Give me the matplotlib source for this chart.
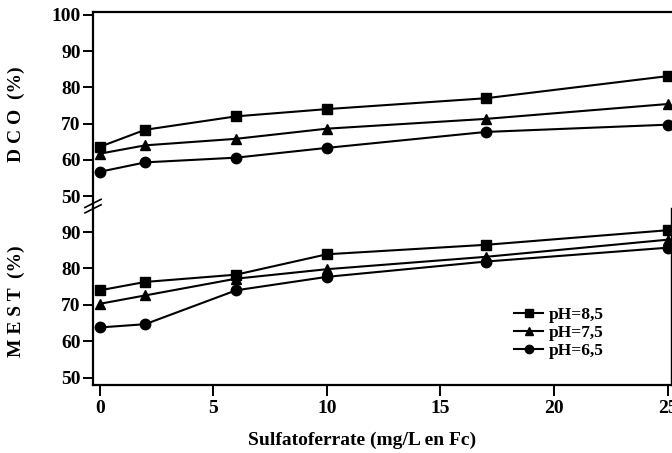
import matplotlib.pyplot as plt
from matplotlib.lines import Line2D

plt.rcParams['font.family'] = ['Liberation Serif', 'DejaVu Serif']
plt.rcParams['font.weight'] = 'bold'

# données
dose = [0, 2, 6, 10, 17, 25]
labels = ['pH=8,5', 'pH=7,5', 'pH=6,5']
markers = ['s', '^', 'o']

dco_85 = [63.6, 68.3, 72.0, 74.0, 77.0, 83.1]
dco_75 = [61.7, 64.0, 65.8, 68.6, 71.3, 75.4]
dco_65 = [56.7, 59.3, 60.6, 63.3, 67.7, 69.7]

mest_85 = [74.0, 76.3, 78.3, 83.9, 86.5, 90.5]
mest_75 = [70.3, 72.6, 77.2, 79.8, 83.2, 87.9]
mest_65 = [63.8, 64.7, 74.0, 77.7, 81.9, 85.7]

x_ticks = [0, 5, 10, 15, 20, 25]
dco_ticks = [50, 60, 70, 80, 90, 100]
mest_ticks = [50, 60, 70, 80, 90]

fig = plt.figure(figsize=(6.72, 4.53), dpi=100)
ax_top = fig.add_axes([0.1384, 0.5408, 0.8601, 0.4327])
ax_bot = fig.add_axes([0.1384, 0.1501, 0.8601, 0.3907])

for ax, series in ((ax_top, (dco_85, dco_75, dco_65)),
                   (ax_bot, (mest_85, mest_75, mest_65))):
    for vals, m, lab in zip(series, markers, labels):
        ax.plot(dose, vals, color='black', marker=m, markersize=7.5,
                linewidth=1.5, label=lab, clip_on=False)
    ax.set_xlim(-0.3, 25.15)
    for s in ax.spines.values():
        s.set_linewidth(1.6)
    ax.tick_params(axis='y', direction='out', length=7, width=1.4,
                   labelsize=14, pad=2)
    ax.tick_params(axis='x', direction='out', length=8, width=1.4,
                   labelsize=14, pad=3)

# panneau haut
ax_top.set_ylim(46.7, 100.8)
ax_top.set_yticks(dco_ticks)
ax_top.set_xticks([])
ax_top.spines['bottom'].set_visible(False)
ax_top.spines['right'].set_visible(False)

# panneau bas
ax_bot.set_ylim(48, 96.6)
ax_bot.set_yticks(mest_ticks)
ax_bot.set_xticks(x_ticks)
ax_bot.spines['top'].set_visible(False)
ax_bot.spines['right'].set_linewidth(1.0)

fig.text(0.539, 0.029, 'Sulfatoferrate (mg/L en Fc)', ha='center',
         va='center', fontsize=14, fontweight='bold')
fig.text(0.025, 0.749, 'D C O  (%)', rotation=90, ha='center', va='center',
         fontsize=14, fontweight='bold')
fig.text(0.025, 0.336, 'M E S T  (%)', rotation=90, ha='center', va='center',
         fontsize=14, fontweight='bold')

# coupure de l'axe
x0 = 0.1384
for dy in (0.0, 0.012):
    fig.add_artist(Line2D([x0 - 0.012, x0 + 0.012],
                          [0.530 + dy, 0.548 + dy],
                          transform=fig.transFigure, color='black',
                          linewidth=1.2))
fig.add_artist(Line2D([x0, x0], [0.535, 0.553], transform=fig.transFigure,
                      color='white', linewidth=2.5, zorder=0))

ax_bot.legend(loc='upper left', bbox_to_anchor=(0.728, 0.44), frameon=False,
              fontsize=12.5, handlelength=1.7, handletextpad=0.3,
              labelspacing=0.1, markerscale=0.8, borderpad=0,
              borderaxespad=0)

plt.savefig('out.png', dpi=100)
plt.close()
